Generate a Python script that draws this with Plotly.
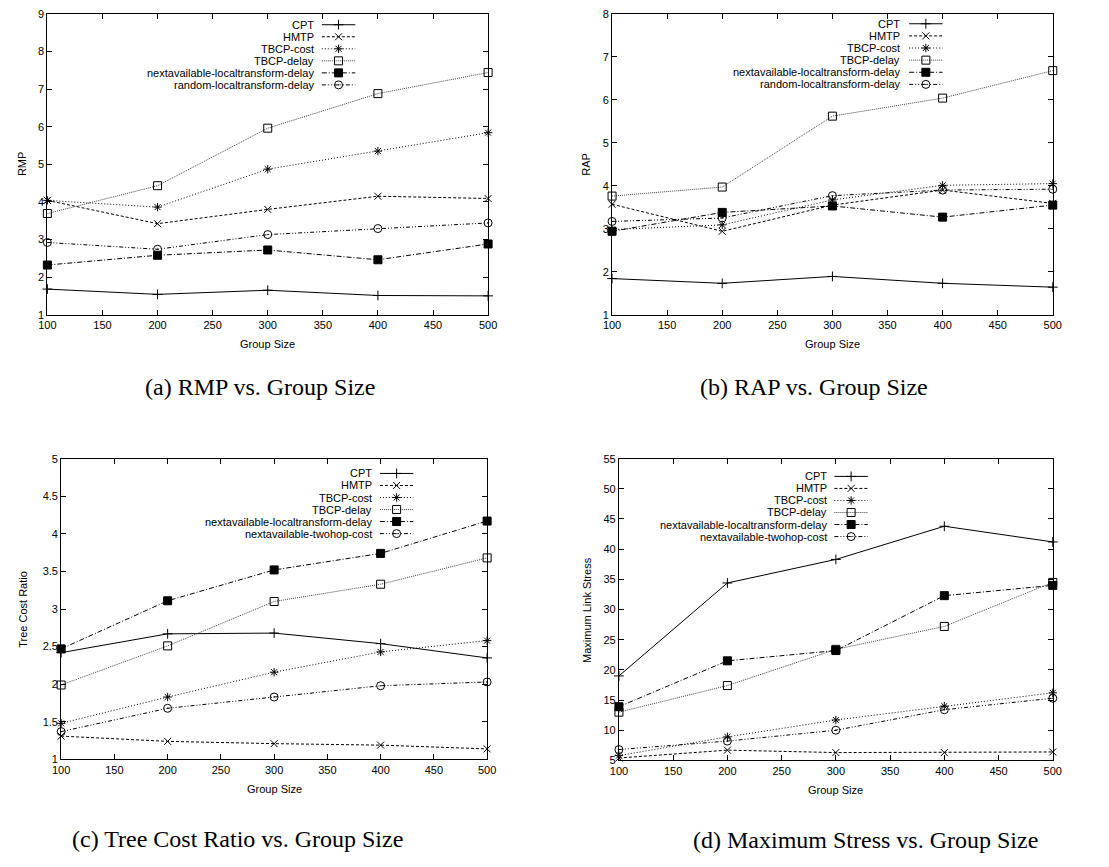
import plotly.graph_objects as go

W, H = 1109, 867

# ---------------------------------------------------------------- data
group_size = [100, 200, 300, 400, 500]
x_ticks = [100, 150, 200, 250, 300, 350, 400, 450, 500]

names_top = ["CPT", "HMTP", "TBCP-cost", "TBCP-delay",
             "nextavailable-localtransform-delay", "random-localtransform-delay"]
names_bottom = ["CPT", "HMTP", "TBCP-cost", "TBCP-delay",
                "nextavailable-localtransform-delay", "nextavailable-twohop-cost"]

# (a) RMP
rmp_cpt = [1.68, 1.54, 1.65, 1.51, 1.50]
rmp_hmtp = [4.04, 3.42, 3.80, 4.15, 4.09]
rmp_tbcp_cost = [4.04, 3.86, 4.87, 5.35, 5.84]
rmp_tbcp_delay = [3.69, 4.43, 5.96, 6.88, 7.44]
rmp_next_local = [2.32, 2.58, 2.72, 2.46, 2.88]
rmp_random_local = [2.92, 2.74, 3.13, 3.29, 3.44]

# (b) RAP
rap_cpt = [1.84, 1.73, 1.89, 1.73, 1.64]
rap_hmtp = [3.57, 2.94, 3.55, 3.90, 3.59]
rap_tbcp_cost = [2.98, 3.09, 3.67, 4.01, 4.05]
rap_tbcp_delay = [3.76, 3.97, 5.62, 6.04, 6.68]
rap_next_local = [2.94, 3.38, 3.53, 3.27, 3.55]
rap_random_local = [3.17, 3.25, 3.77, 3.90, 3.92]

# (c) Tree cost ratio
tcr_cpt = [2.42, 2.67, 2.68, 2.54, 2.35]
tcr_hmtp = [1.31, 1.24, 1.21, 1.19, 1.14]
tcr_tbcp_cost = [1.48, 1.83, 2.16, 2.43, 2.58]
tcr_tbcp_delay = [1.99, 2.51, 3.10, 3.33, 3.68]
tcr_next_local = [2.47, 3.11, 3.52, 3.74, 4.17]
tcr_next_twohop = [1.37, 1.68, 1.83, 1.98, 2.03]

# (d) Maximum link stress
mls_cpt = [19.0, 34.4, 38.3, 43.8, 41.2]
mls_hmtp = [5.4, 6.7, 6.3, 6.3, 6.4]
mls_tbcp_cost = [5.8, 8.9, 11.7, 14.0, 16.2]
mls_tbcp_delay = [13.0, 17.4, 23.4, 27.2, 34.5]
mls_next_local = [13.9, 21.5, 23.2, 32.3, 34.0]
mls_next_twohop = [6.8, 8.2, 10.0, 13.4, 15.3]

# ---------------------------------------------------------------- styles
# (marker symbol, marker size, dash pattern, line colour) per series slot
STYLES = [
    ("cross-thin-open", 7, "solid", "#000000"),
    ("x-thin-open", 7, "3px,2px", "#000000"),
    ("asterisk-open", 7, "1px,2px", "#000000"),
    ("square-open", 8, "1px,1px", "#444444"),
    ("square", 8, "5px,2px,1px,2px", "#000000"),
    ("circle-open-dot", 8, "4px,2px,1px,2px,1px,2px", "#000000"),
]

SANS = "Liberation Sans, Arial, sans-serif"
SERIF = "Liberation Serif, Times New Roman, serif"

# box = (left, top, right, bottom) in pixels; key = (text right, key centre, first row, row step)
panels = [
    dict(box=(39, 8, 487, 313), yr=(1, 9), dy=1, ylab="RMP", ylab_x=13,
         caption="(a) RMP vs. Group Size", cap=(255, 386),
         key=(312, 335, 19, 12.2), names=names_top,
         series=[rmp_cpt, rmp_hmtp, rmp_tbcp_cost, rmp_tbcp_delay,
                 rmp_next_local, rmp_random_local]),
    dict(box=(613, 8, 1061, 313), yr=(1, 8), dy=1, ylab="RAP", ylab_x=587,
         caption="(b) RAP vs. Group Size", cap=(818, 386),
         key=(908, 932, 18, 12.3), names=names_top,
         series=[rap_cpt, rap_hmtp, rap_tbcp_cost, rap_tbcp_delay,
                 rap_next_local, rap_random_local]),
    dict(box=(53, 459, 486, 764), yr=(1, 5), dy=0.5, ylab="Tree Cost Ratio", ylab_x=14,
         caption="(c) Tree Cost Ratio vs. Group Size", cap=(232, 845),
         key=(371, 394, 474, 12.2), names=names_bottom,
         series=[tcr_cpt, tcr_hmtp, tcr_tbcp_cost, tcr_tbcp_delay,
                 tcr_next_local, tcr_next_twohop]),
    dict(box=(620, 459, 1061, 765), yr=(5, 55), dy=5, ylab="Maximum Link Stress", ylab_x=587,
         caption="(d) Maximum Stress vs. Group Size", cap=(871, 846),
         key=(834, 856, 477, 12.2), names=names_bottom,
         series=[mls_cpt, mls_hmtp, mls_tbcp_cost, mls_tbcp_delay,
                 mls_next_local, mls_next_twohop]),
]

fig = go.Figure()
layout = dict(
    width=W, height=H, margin=dict(l=0, r=0, t=0, b=0),
    paper_bgcolor="white", plot_bgcolor="rgba(0,0,0,0)",
    showlegend=False, font=dict(family=SANS, size=11, color="black"),
)
annotations = []

axis_common = dict(
    showline=True, linecolor="black", linewidth=1, mirror="ticks",
    ticks="inside", ticklen=5, tickcolor="black", tickwidth=1,
    showgrid=False, zeroline=False, tickfont=dict(family=SANS, size=11, color="black"),
)

# full-figure pixel overlay used for legend keys and captions
layout["xaxis5"] = dict(domain=[0, 1], range=[0, W], visible=False, anchor="y5", fixedrange=True)
layout["yaxis5"] = dict(domain=[0, 1], range=[H, 0], visible=False, anchor="x5", fixedrange=True)

for i, p in enumerate(panels):
    n = "" if i == 0 else str(i + 1)
    l, t, r, b = p["box"]
    layout[f"xaxis{n}"] = dict(axis_common, domain=[l / W, r / W], range=[100, 500],
                               tickvals=x_ticks, anchor=f"y{n}")
    y0, y1 = p["yr"]
    layout[f"yaxis{n}"] = dict(axis_common, domain=[1 - b / H, 1 - t / H], range=[y0, y1],
                               tick0=y0, dtick=p["dy"], anchor=f"x{n}")

    for k, (vals, name) in enumerate(zip(p["series"], p["names"])):
        sym, size, dash, col = STYLES[k]
        fig.add_trace(go.Scatter(
            x=group_size, y=vals, name=name, mode="lines+markers",
            xaxis=f"x{n}", yaxis=f"y{n}", cliponaxis=False,
            line=dict(color=col, width=1, dash=dash),
            marker=dict(symbol=sym, size=size, color="black",
                        line=dict(color="black", width=1)),
        ))

    # axis titles
    annotations.append(dict(xref="x5", yref="y5", x=p["ylab_x"], y=(t + b) / 2,
                            text=p["ylab"], textangle=-90, showarrow=False,
                            font=dict(family=SANS, size=11, color="black")))
    annotations.append(dict(xref="x5", yref="y5", x=(l + r) / 2, y=b + 30,
                            text="Group Size", showarrow=False,
                            font=dict(family=SANS, size=11, color="black")))
    # caption
    cx, cy = p["cap"]
    annotations.append(dict(xref="x5", yref="y5", x=cx, y=cy, text=p["caption"],
                            showarrow=False, font=dict(family=SERIF, size=24, color="black")))

    # legend keys: right-aligned label, then a line sample with the marker in the middle
    tx, kx, ry, step = p["key"]
    for k, name in enumerate(p["names"]):
        sym, size, dash, col = STYLES[k]
        yy = ry + k * step
        annotations.append(dict(xref="x5", yref="y5", x=tx, y=yy, text=name,
                                xanchor="right", showarrow=False,
                                font=dict(family=SANS, size=11, color="black")))
        fig.add_trace(go.Scatter(
            x=[kx - 17, kx, kx + 17], y=[yy, yy, yy], mode="lines+markers",
            xaxis="x5", yaxis="y5", cliponaxis=False, hoverinfo="skip",
            line=dict(color=col, width=1, dash=dash),
            marker=dict(symbol=sym, size=size, color="black", opacity=[0, 1, 0],
                        line=dict(color="black", width=1)),
        ))

layout["annotations"] = annotations
fig.update_layout(**layout)
fig.write_html("out.html")
